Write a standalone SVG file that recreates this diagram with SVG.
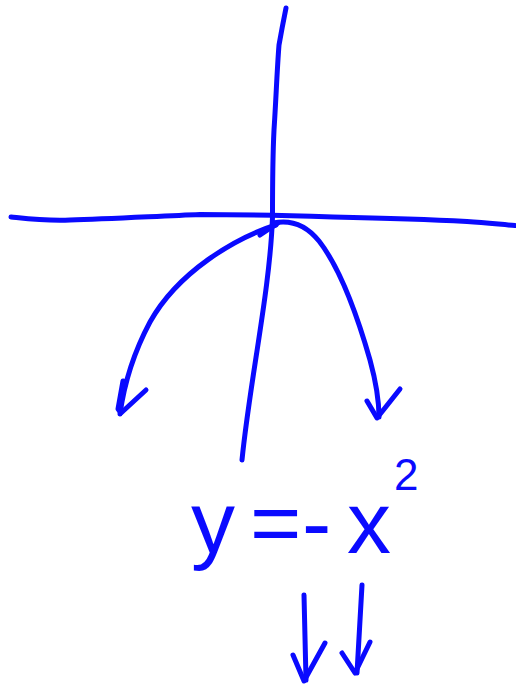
<svg xmlns="http://www.w3.org/2000/svg" width="516" height="691" viewBox="0 0 516 691">
<style>
.ink{fill:none;stroke:#0a0aff;stroke-width:5;stroke-linecap:round;stroke-linejoin:round}
.txt{fill:#0a0aff;font-family:"Liberation Sans",Arial,sans-serif}
</style>
<rect width="516" height="691" fill="#ffffff"/>
<g id="axes">
<path id="x-axis" class="ink" d="M11,217 C30,219 45,221 70,220 C110,219 160,216 200,214.5 C240,214.5 300,216 333,217 C380,218 420,219 467,221.5 C490,223 505,225 515,225.5"/>
<path id="y-axis" class="ink" d="M286,8 C284,18 282,28 279,45 C277,70 276,100 274,130 C272.5,160 272.5,190 272.5,217 C270,290 250,380 242,460"/>
</g>
<g id="parabola">
<path class="ink" d="M260,235 L278,223"/>
<path class="ink" d="M276,225 C235,238 178,272 150,322 C134,352 124,385 120,414"/>
<path class="ink" d="M273,223 C292,219 307,226 319,241 C340,268 358,318 370,360 C376,382 379,400 379,417"/>
<path class="ink" d="M123,381 L118,409 L121,413 L146,390"/>
<path class="ink" d="M367,401 L377,418 L400,389"/>
</g>
<g id="equation">
<text class="txt" font-size="88"><tspan x="191" y="553">y</tspan><tspan x="250" y="553">=</tspan><tspan x="302" y="553">-</tspan><tspan x="347" y="553">x</tspan><tspan x="394" y="490" font-size="44">2</tspan></text>
</g>
<g id="down-arrows">
<path class="ink" d="M304,595 L306,680"/>
<path class="ink" d="M293,655 L304,681 L325,643"/>
<path class="ink" d="M362,585 L357,673"/>
<path class="ink" d="M342,653 L355,673 L370,642"/>
</g>
</svg>
